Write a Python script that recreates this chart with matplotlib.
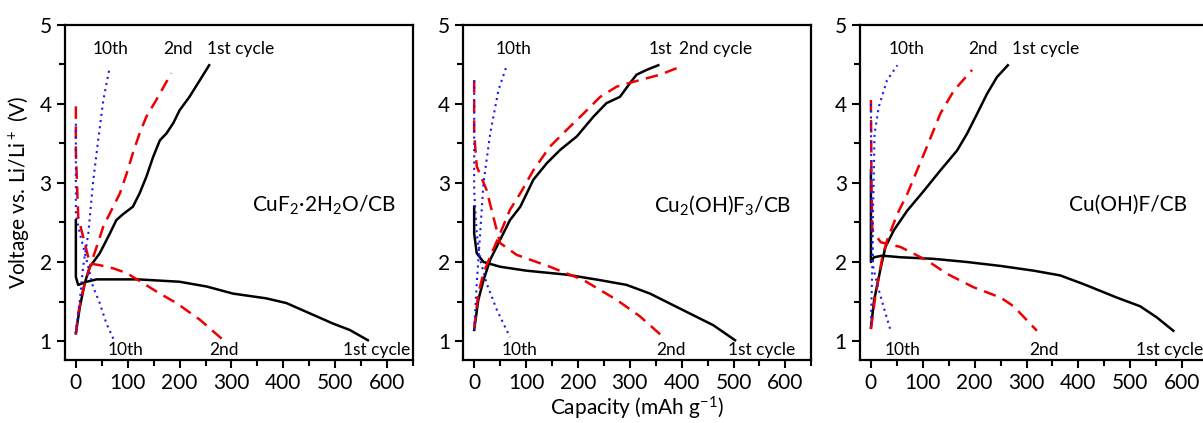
import matplotlib
matplotlib.use("Agg")
from matplotlib import pyplot as plt
from matplotlib.ticker import MultipleLocator

plt.rcParams["font.family"] = ["Lato", "DejaVu Sans"]
plt.rcParams["mathtext.fontset"] = "custom"
plt.rcParams["mathtext.rm"] = "Lato"
plt.rcParams["mathtext.default"] = "regular"

# ---- panel 1: CuF2.2H2O/CB ----
p1_c1_dis_x = [0, 0, 4.5, 20.6, 40, 120, 200, 252, 303, 367, 406, 451, 496, 528, 563]
p1_c1_dis_y = [2.53, 1.81, 1.71, 1.75, 1.78, 1.78, 1.75, 1.69, 1.60, 1.54, 1.48, 1.35, 1.22, 1.14, 1.01]
p1_c1_chg_x = [0, 7.7, 17, 27, 46, 65.5, 78, 90, 98, 110, 123, 136, 149, 162, 175, 188, 200, 219, 239, 257]
p1_c1_chg_y = [1.10, 1.43, 1.73, 1.94, 2.11, 2.36, 2.53, 2.60, 2.64, 2.70, 2.87, 3.08, 3.33, 3.54, 3.63, 3.76, 3.92, 4.09, 4.30, 4.49]
p1_c2_dis_x = [0, 0, 4.5, 14, 27, 46, 72, 98, 130, 162, 194, 239, 281]
p1_c2_dis_y = [3.97, 3.4, 2.57, 2.32, 1.98, 1.96, 1.92, 1.86, 1.73, 1.60, 1.48, 1.27, 1.03]
p1_c2_chg_x = [0, 4.5, 14, 27, 40, 53, 72, 85, 98, 110, 123, 136, 155, 184]
p1_c2_chg_y = [1.08, 1.35, 1.65, 1.94, 2.19, 2.45, 2.70, 2.87, 3.12, 3.38, 3.63, 3.84, 4.05, 4.39]
p1_c10_dis_x = [0, 0, 7.7, 20.6, 33, 46, 59, 75]
p1_c10_dis_y = [3.75, 2.6, 2.36, 2.03, 1.69, 1.48, 1.22, 0.99]
p1_c10_chg_x = [0, 7.7, 14, 24, 33, 43, 53, 65.5]
p1_c10_chg_y = [1.10, 1.52, 1.94, 2.36, 3.0, 3.54, 4.05, 4.47]

# ---- panel 2: Cu2(OH)F3/CB ----
p2_c1_dis_x = [0, 0, 5, 18, 50, 101, 178, 243, 294, 339, 403, 461, 503]
p2_c1_dis_y = [2.70, 2.36, 2.11, 2.00, 1.94, 1.89, 1.84, 1.77, 1.71, 1.60, 1.39, 1.20, 1.01]
p2_c1_chg_x = [0, 8, 18, 31, 50, 69, 89, 114, 140, 166, 198, 230, 255, 281, 300, 313, 332, 355]
p2_c1_chg_y = [1.14, 1.52, 1.77, 2.03, 2.28, 2.53, 2.70, 3.04, 3.25, 3.42, 3.59, 3.84, 4.01, 4.09, 4.26, 4.37, 4.43, 4.49]
p2_c2_dis_x = [0, 0, 5, 24, 37, 50, 82, 146, 211, 275, 320, 368]
p2_c2_dis_y = [4.30, 3.63, 3.21, 2.91, 2.57, 2.24, 2.09, 1.94, 1.77, 1.52, 1.31, 1.03]
p2_c2_chg_x = [0, 8, 18, 31, 50, 69, 89, 114, 146, 178, 211, 243, 275, 307, 358, 397]
p2_c2_chg_y = [1.16, 1.60, 1.86, 2.07, 2.36, 2.66, 2.87, 3.16, 3.46, 3.67, 3.88, 4.09, 4.22, 4.28, 4.37, 4.47]
p2_c10_dis_x = [0, 0, 5, 11.5, 24, 44, 69]
p2_c10_dis_y = [4.30, 2.9, 2.36, 2.03, 1.73, 1.39, 1.05]
p2_c10_chg_x = [0, 5, 11.5, 18, 31, 47, 63]
p2_c10_chg_y = [1.14, 1.73, 2.36, 3.0, 3.63, 4.18, 4.49]

# ---- panel 3: Cu(OH)F/CB ----
p3_c1_dis_x = [0, 0, 6, 22, 57, 121, 185, 250, 314, 365, 410, 474, 519, 551, 583]
p3_c1_dis_y = [3.16, 2.00, 2.06, 2.08, 2.06, 2.04, 2.00, 1.95, 1.89, 1.83, 1.72, 1.55, 1.44, 1.30, 1.13]
p3_c1_chg_x = [0, 6, 19, 28, 44, 70, 102, 134, 166, 185, 205, 224, 243, 264]
p3_c1_chg_y = [1.17, 1.51, 1.93, 2.19, 2.40, 2.65, 2.90, 3.16, 3.41, 3.62, 3.88, 4.13, 4.34, 4.49]
p3_c2_dis_x = [0, 1, 2.6, 19, 57, 108, 147, 198, 250, 275, 320]
p3_c2_dis_y = [4.05, 3.0, 2.40, 2.25, 2.19, 2.02, 1.85, 1.68, 1.55, 1.44, 1.13]
p3_c2_chg_x = [0, 9, 22, 31, 51, 70, 89, 108, 134, 160, 195]
p3_c2_chg_y = [1.15, 1.59, 2.06, 2.27, 2.61, 2.86, 3.16, 3.46, 3.88, 4.17, 4.43]
p3_c10_dis_x = [0, 1, 4, 12, 25, 38]
p3_c10_dis_y = [4.00, 2.6, 1.95, 1.72, 1.42, 1.13]
p3_c10_chg_x = [0, 2.6, 4.5, 7, 15, 31, 51]
p3_c10_chg_y = [1.21, 1.93, 2.78, 3.62, 3.96, 4.30, 4.49]

panels = [
    dict(curves=[(p1_c1_dis_x, p1_c1_dis_y, p1_c1_chg_x, p1_c1_chg_y),
                 (p1_c2_dis_x, p1_c2_dis_y, p1_c2_chg_x, p1_c2_chg_y),
                 (p1_c10_dis_x, p1_c10_dis_y, p1_c10_chg_x, p1_c10_chg_y)],
         name="CuF$_2$·2H$_2$O/CB", name_x=478,
         top=[("10th", 67), ("2nd", 196), ("1st cycle", 317)],
         bottom=[("10th", 95), ("2nd", 285), ("1st cycle", 579)]),
    dict(curves=[(p2_c1_dis_x, p2_c1_dis_y, p2_c1_chg_x, p2_c1_chg_y),
                 (p2_c2_dis_x, p2_c2_dis_y, p2_c2_chg_x, p2_c2_chg_y),
                 (p2_c10_dis_x, p2_c10_dis_y, p2_c10_chg_x, p2_c10_chg_y)],
         name="Cu$_2$(OH)F$_3$/CB", name_x=479,
         top=[("10th", 75), ("1st", 359), ("2nd cycle", 466)],
         bottom=[("10th", 88), ("2nd", 379), ("1st cycle", 554)]),
    dict(curves=[(p3_c1_dis_x, p3_c1_dis_y, p3_c1_chg_x, p3_c1_chg_y),
                 (p3_c2_dis_x, p3_c2_dis_y, p3_c2_chg_x, p3_c2_chg_y),
                 (p3_c10_dis_x, p3_c10_dis_y, p3_c10_chg_x, p3_c10_chg_y)],
         name="Cu(OH)F/CB", name_x=496,
         top=[("10th", 68), ("2nd", 217), ("1st cycle", 336)],
         bottom=[("10th", 61), ("2nd", 334), ("1st cycle", 575)]),
]

styles = [dict(color="black", ls="-", lw=1.8),
          dict(color="#ee0000", ls=(0, (5, 3)), lw=1.8),
          dict(color="#1a1aee", ls=(0, (1, 2)), lw=1.5)]

fig = plt.figure(figsize=(12.03, 4.23), dpi=100)
lefts = [0.054, 0.3851, 0.7149]

for i, (p, left) in enumerate(zip(panels, lefts)):
    ax = fig.add_axes([left, 0.149, 0.2893, 0.792])
    for (dx, dy, cx, cy), st in zip(p["curves"], styles):
        ax.plot(dx, dy, **st)
        ax.plot(cx, cy, **st)
    ax.set_xlim(-21, 650)
    ax.set_ylim(0.76, 5)
    ax.xaxis.set_major_locator(MultipleLocator(100))
    ax.xaxis.set_minor_locator(MultipleLocator(50))
    ax.yaxis.set_major_locator(MultipleLocator(1))
    ax.yaxis.set_minor_locator(MultipleLocator(0.5))
    ax.tick_params(which="major", direction="out", length=6, width=1.5, labelsize=15)
    ax.tick_params(which="minor", direction="out", length=4, width=1.5)
    for s in ax.spines.values():
        s.set_linewidth(1.6)
    ax.text(p["name_x"], 2.72, p["name"], ha="center", va="center", fontsize=15)
    for label, x in p["top"]:
        ax.text(x, 4.69, label, ha="center", va="center", fontsize=12.5)
    for label, x in p["bottom"]:
        ax.text(x, 0.89, label, ha="center", va="center", fontsize=12.5)
    if i == 0:
        ax.set_ylabel("Voltage vs. Li/Li$^+$ (V)", fontsize=15, labelpad=6)
    if i == 1:
        ax.set_xlabel("Capacity (mAh g$^{-1}$)", fontsize=15, labelpad=1)

fig.savefig("out.png", dpi=100)
